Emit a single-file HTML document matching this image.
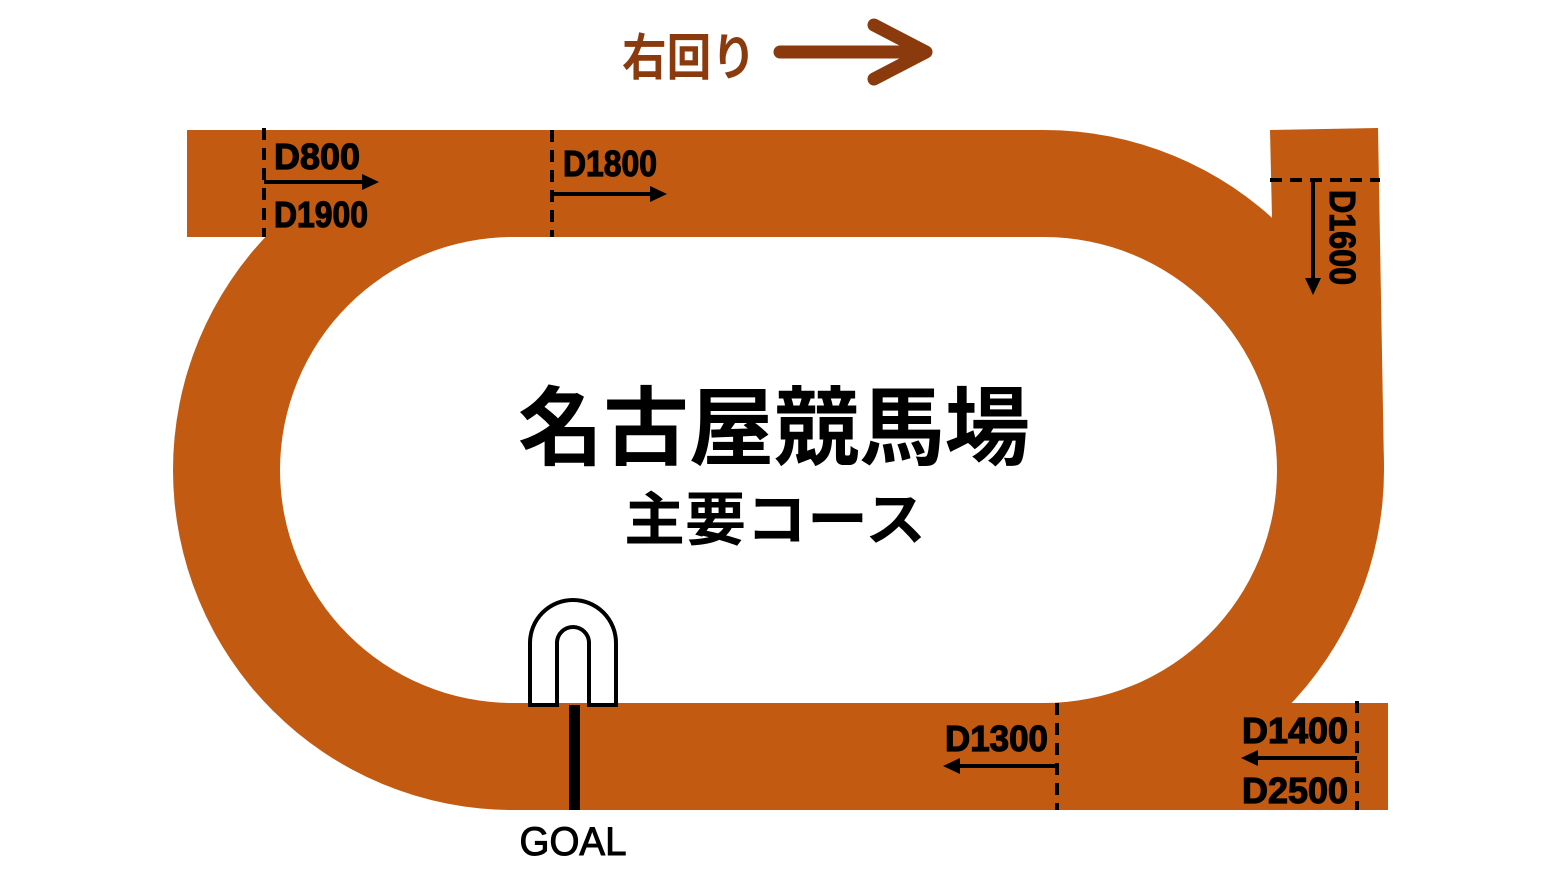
<!DOCTYPE html>
<html><head><meta charset="utf-8"><style>
html,body{margin:0;padding:0;background:#fff}
svg{display:block}
.d{font-family:"Liberation Sans Narrow","Liberation Sans",sans-serif;font-weight:bold;font-size:36px;fill:#000;stroke:#000;stroke-width:1.2}
</style></head><body>
<svg width="1560" height="878" viewBox="0 0 1560 878" xmlns="http://www.w3.org/2000/svg">
<g fill="#c25a12">
<rect x="173" y="130" width="1211" height="680" rx="340" ry="340"/>
<rect x="187" y="130" width="400" height="107"/>
<polygon points="1270,130 1378,128 1384,468 1300,468 1272,218"/>
<rect x="1000" y="703" width="388" height="107"/>
</g>
<rect x="280" y="237" width="997" height="466" rx="233" ry="233" fill="#fff"/>
<g stroke="#000" stroke-width="4" stroke-dasharray="12,8" fill="none">
<line x1="264" y1="128" x2="264" y2="237"/>
<line x1="552" y1="130" x2="552" y2="237"/>
<line x1="1057" y1="703" x2="1057" y2="810"/>
<line x1="1357" y1="701" x2="1357" y2="810"/>
<line x1="1270" y1="180" x2="1380" y2="180"/>
</g>
<g stroke="#000" stroke-width="4" fill="none">
<line x1="264" y1="182" x2="365" y2="182"/>
<line x1="552" y1="194" x2="653" y2="194"/>
<line x1="1057" y1="766" x2="957" y2="766"/>
<line x1="1357" y1="758" x2="1255" y2="758"/>
<line x1="1313" y1="180" x2="1313" y2="282"/>
</g>
<g fill="#000">
<polygon points="379,182 362,174 362,190"/>
<polygon points="667,194 650,186 650,202"/>
<polygon points="943,766 960,758 960,774"/>
<polygon points="1241,758 1258,750 1258,766"/>
<polygon points="1313,295 1305,278 1321,278"/>
</g>
<g class="d">
<text x="274" y="169" textLength="86" lengthAdjust="spacingAndGlyphs">D800</text>
<text x="274" y="227" textLength="94" lengthAdjust="spacingAndGlyphs">D1900</text>
<text x="563" y="176" textLength="94" lengthAdjust="spacingAndGlyphs">D1800</text>
<text x="945" y="751" textLength="103" lengthAdjust="spacingAndGlyphs">D1300</text>
<text x="1242" y="743" textLength="106" lengthAdjust="spacingAndGlyphs">D1400</text>
<text x="1242" y="803" textLength="106" lengthAdjust="spacingAndGlyphs">D2500</text>
<text transform="translate(1330,190) rotate(90)" x="0" y="0" textLength="95" lengthAdjust="spacingAndGlyphs">D1600</text>
</g>
<text x="774" y="458" text-anchor="middle" font-family="'Liberation Sans','Noto Sans CJK JP',sans-serif" font-weight="bold" font-size="86" textLength="512" lengthAdjust="spacingAndGlyphs">名古屋競馬場</text>
<text x="775" y="540" text-anchor="middle" font-family="'Liberation Sans','Noto Sans CJK JP',sans-serif" font-weight="bold" font-size="58" textLength="302" lengthAdjust="spacingAndGlyphs">主要コース</text>
<text x="622" y="75" font-family="'Liberation Sans','Noto Sans CJK JP',sans-serif" font-weight="bold" font-size="50" fill="#8b3a0e" textLength="134" lengthAdjust="spacingAndGlyphs">右回り</text>
<g stroke="#8b3a0e" stroke-width="13" stroke-linecap="round" stroke-linejoin="round" fill="none">
<line x1="780" y1="52" x2="924" y2="52"/>
<polyline points="874,25 926,52 874,79"/>
</g>
<path d="M530,705 L530,643 A43,43 0 0 1 616,643 L616,705 L589,705 L589,643 A16,16 0 0 0 557,643 L557,705 Z" fill="#fff" stroke="#000" stroke-width="4"/>
<rect x="569" y="705" width="11" height="105" fill="#000"/>
<text x="573" y="855" text-anchor="middle" font-family="'Liberation Sans',sans-serif" font-size="40" fill="#000" stroke="#000" stroke-width="1" textLength="107" lengthAdjust="spacingAndGlyphs">GOAL</text>
</svg>
</body></html>
